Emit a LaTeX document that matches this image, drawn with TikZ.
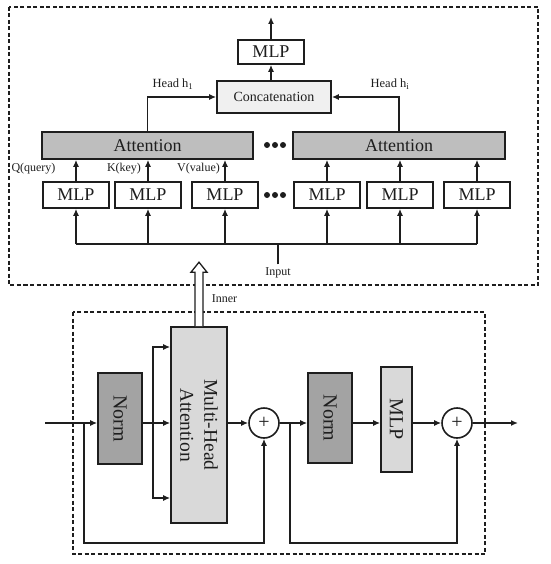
\documentclass[tikz,border=0pt]{standalone}
\usepackage{fontspec}
\setmainfont{Liberation Serif}
\usetikzlibrary{arrows.meta,calc}
\definecolor{ln}{HTML}{1E1E1E}
\definecolor{attfill}{HTML}{BEBEBE}
\definecolor{concfill}{HTML}{F0F0F0}
\definecolor{mhafill}{HTML}{D9D9D9}
\definecolor{normfill}{HTML}{A3A3A3}
\begin{document}
\begin{tikzpicture}[x=1pt,y=-1pt, color=ln, line width=1.6pt,
  box/.style={draw=ln, line width=1.6pt, fill=white, inner sep=0pt, text=ln},
  arr/.style={-{Latex[length=7pt,width=6pt]}},
  frame/.style={draw=ln, line width=1.4pt, dash pattern=on 4pt off 2.5pt},
  lbl/.style={inner sep=1pt, text=ln, font=\fontsize{12}{14}\selectfont},
  big/.style={font=\fontsize{18}{21}\selectfont},
  vbig/.style={font=\fontsize{20}{23}\selectfont, rotate=-90, align=center, text=ln, inner sep=0pt},
  plus/.style={draw=ln, line width=1.6pt, circle, minimum size=30pt, inner sep=0pt, fill=white, font=\fontsize{20}{22}\selectfont}
]
\fill[white] (0,0) rectangle (550,564);
\useasboundingbox (0,0) rectangle (550,564);

% ---------- top frame ----------
\draw[frame] (9,7) rectangle (538,285);

\node[box, big, minimum width=66pt, minimum height=24pt] (mlpT) at (271,52) {MLP};
\node[box, fill=concfill, minimum width=114pt, minimum height=32pt, font=\fontsize{14}{16}\selectfont] (concat) at (274,97) {Concatenation};
\node[box, big, fill=attfill, minimum width=211pt, minimum height=27pt] (att1) at (147.5,145.5) {Attention};
\node[box, big, fill=attfill, minimum width=212pt, minimum height=27pt] (att2) at (399,145.5) {Attention};

\coordinate (topout) at (271,17);
\draw[arr] (mlpT.north) -- (topout);
\draw[arr] (mlpT.south |- concat.north) -- (mlpT.south);
\draw[arr] (att1.north) |- (concat.west);
\draw[arr] (att2.north) |- (concat.east);
\node[lbl, font=\fontsize{12.5}{14}\selectfont] (h1) at (173,84) {Head h\textsubscript{1}};
\node[lbl, font=\fontsize{12.5}{14}\selectfont] (hi) at (390,84) {Head h\textsubscript{i}};

\foreach \n/\x in {m1/76,m2/148,m3/225,m4/327,m5/400,m6/477}{
  \node[box, big, minimum width=66pt, minimum height=26pt] (\n) at (\x,195) {MLP};
}
\draw[arr] (m1.north) -- (m1.north |- att1.south);
\draw[arr] (m2.north) -- (m2.north |- att1.south);
\draw[arr] (m3.north) -- (m3.north |- att1.south);
\draw[arr] (m4.north) -- (m4.north |- att2.south);
\draw[arr] (m5.north) -- (m5.north |- att2.south);
\draw[arr] (m6.north) -- (m6.north |- att2.south);

\node[lbl] (q) at (33.5,169) {Q(query)};
\node[lbl] (k) at (124,169) {K(key)};
\node[lbl] (v) at (198.5,169) {V(value)};

\foreach \y in {145,195}{
  \foreach \dx in {-8,0,8}{
    \fill[ln] (275+\dx,\y) circle (3pt);
  }
}

\coordinate (bus1) at (76,244);
\coordinate (bus6) at (477,244);
\draw (bus1) -- (bus6);
\foreach \n in {m1,m2,m3,m4,m5,m6}{
  \draw[arr] (\n.south |- bus1) -- (\n.south);
}
\node[lbl, inner sep=2.5pt] (input) at (278,273) {Input};
\draw (input.north) -- (input.north |- bus1);

% ---------- bottom frame ----------
\draw[frame] (73,312) rectangle (485,554);

\node[box, fill=normfill, minimum width=44pt, minimum height=91pt] (norm1) at (120,418.5) {};
\node[vbig] at (norm1.center) {Norm};
\node[box, fill=mhafill, minimum width=56pt, minimum height=196pt] (mha) at (199,425) {};
\node[vbig, font=\fontsize{19.5}{24}\selectfont] at (mha.center) {Multi-Head\\Attention};
\node[plus] (p1) at (264,423) {+};
\node[box, fill=normfill, minimum width=44pt, minimum height=90pt] (norm2) at (330,418) {};
\node[vbig] at (norm2.center) {Norm};
\node[box, fill=mhafill, minimum width=31pt, minimum height=105pt] (mlpB) at (396.5,419.5) {};
\node[vbig] at (mlpB.center) {MLP};
\node[plus] (p2) at (457,423) {+};

\coordinate (in0) at (45,423);
\coordinate (out0) at (518,423);
\draw[arr] (in0) -- (in0 -| norm1.west);
\draw[arr] (norm1.east |- in0) -- (mha.west |- in0);
\coordinate (br) at (153,423);
\draw[arr] (br) |- (mha.west |- 0,347);
\draw[arr] (br) |- (mha.west |- 0,498);
\draw[arr] (mha.east |- p1) -- (p1.west);
\draw[arr] (p1.east) -- (norm2.west |- p1);
\draw[arr] (norm2.east |- p1) -- (mlpB.west |- p1);
\draw[arr] (mlpB.east |- p2) -- (p2.west);
\draw[arr] (p2.east) -- (out0);

\coordinate (s1) at (84,423);
\draw[arr] (s1) -- (84,543) -| (p1.south);
\coordinate (s2) at (290,423);
\draw[arr] (s2) -- (290,543) -| (p2.south);

% hollow arrow
\draw[fill=white, line width=1.3pt] ($(mha.north)+(-4,0)$) -- ++(0,-54) -- ++(-4,0) -- ++(8,-10) -- ++(8,10) -- ++(-4,0) -- ++(0,54);
\node[lbl] (inner) at (224.5,299) {Inner};
\end{tikzpicture}
\end{document}
